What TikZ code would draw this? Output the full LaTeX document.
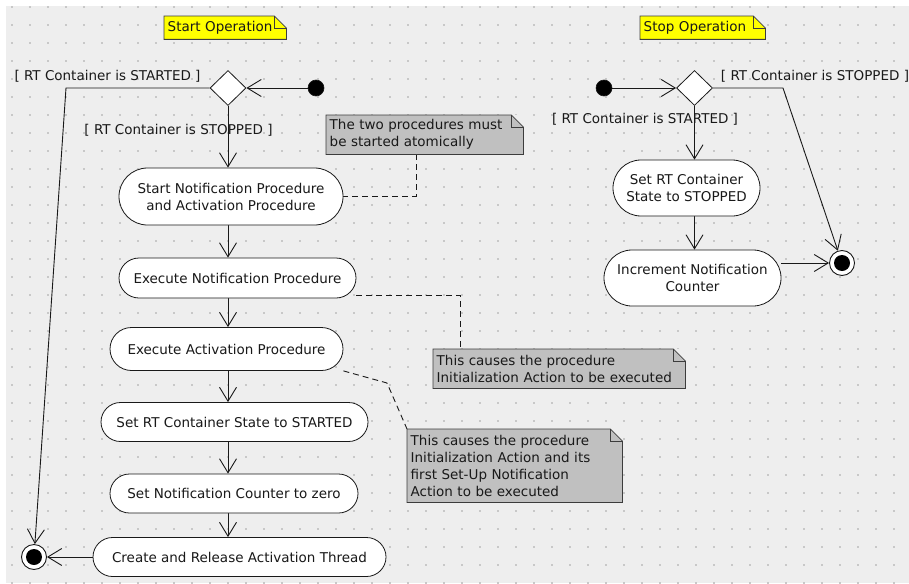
\documentclass[tikz,border=0pt]{standalone}
\usepackage{fontspec}
\setmainfont{DejaVu Sans}
\usetikzlibrary{arrows.meta,shapes.geometric}

\definecolor{canvas}{RGB}{238,238,238}
\definecolor{griddot}{RGB}{200,200,200}
\definecolor{notegrey}{RGB}{192,192,192}
\definecolor{noteyellow}{RGB}{255,255,0}
\definecolor{ink}{RGB}{25,25,25}

\pgfdeclarelayer{grid}
\pgfdeclarelayer{edges}
\pgfsetlayers{grid,edges,main}

\tikzset{
  act/.style n args={3}{rectangle, draw=ink, fill=white, line width=0.8pt,
    rounded corners=#3, minimum width=#1, minimum height=#2, inner sep=0pt,
    align=center},
  decision/.style={diamond, draw=ink, fill=white, line width=0.8pt,
    minimum width=36pt, minimum height=35pt, inner sep=0pt},
  initial/.style={circle, fill=black, draw=ink, line width=0.6pt,
    minimum size=16pt, inner sep=0pt},
  final/.style={circle, fill=white, draw=ink, line width=0.9pt,
    minimum size=25pt, inner sep=0pt,
    path picture={\fill[black] (path picture bounding box.center) circle (8pt);}},
  note/.style n args={4}{rectangle, fill=#1, minimum width=#2, minimum height=#3,
    text width=#4, align=left, inner xsep=3.5pt, inner ysep=0pt, anchor=north west},
  guard/.style={inner sep=0pt},
  flow/.style={draw=ink, line width=0.9pt,
    -{Straight Barb[length=14pt,width=17pt,line width=0.9pt]}},
  link/.style={draw=ink, line width=0.9pt, dash pattern=on 6pt off 4pt},
  fold/.style={draw=ink!85, line width=0.8pt},
}

% dog-eared outline of a note node
\newcommand\dogear[1]{%
  \fill[canvas] ([xshift=-12pt]#1.north east) -- (#1.north east)
    -- ([yshift=-12pt]#1.north east) -- cycle;
  \draw[fold] (#1.north west) -- ([xshift=-12pt]#1.north east)
    -- ([yshift=-12pt]#1.north east) -- (#1.south east)
    -- (#1.south west) -- cycle;
  \draw[fold] ([xshift=-12pt]#1.north east)
    -- ([xshift=-12pt,yshift=-12pt]#1.north east)
    -- ([yshift=-12pt]#1.north east);
}

\begin{document}
\begin{tikzpicture}[x=1pt,y=-1pt,font=\fontsize{13.5}{17}\selectfont, text=ink]
\useasboundingbox (0,0) rectangle (909,583);

% dotted canvas
\begin{pgfonlayer}{grid}
  \fill[canvas] (6,6) rectangle (909,583);
  \foreach \x in {12,30,...,906}
    \foreach \y in {7,25,...,583}
      \fill[griddot] (\x-0.75,\y-0.75) rectangle ++(1.5,1.5);
\end{pgfonlayer}

% titles
\node[note={noteyellow}{122pt}{23pt}{115pt}] (nstart) at (164,16) {Start Operation};
\dogear{nstart}
\node[note={noteyellow}{125pt}{23pt}{118pt}] (nstop) at (640,16) {Stop Operation};
\dogear{nstop}

% start operation flow
\node[initial]  (i1) at (316,88) {};
\node[decision] (d1) at (228,88) {};
\node[act={224pt}{57pt}{28.5pt}] (b1) at (231,196.5)
  {Start Notification Procedure\\and Activation Procedure};
\node[act={237pt}{40pt}{20pt}] (b2) at (237.5,278) {Execute Notification Procedure};
\node[act={233pt}{43pt}{21.5pt}] (b3) at (226.5,349) {Execute Activation Procedure};
\node[act={267pt}{39pt}{19.5pt}] (b4) at (234.5,422) {Set RT Container State to STARTED};
\node[act={248pt}{39pt}{19.5pt}] (b5) at (234,493.5) {Set Notification Counter to zero};
\node[act={293pt}{39pt}{19.5pt}] (b6) at (239.5,557) {Create and Release Activation Thread};
\node[final] (f1) at (34,557) {};

\node[guard] (g1) at (107.5,76) {[ RT Container is STARTED ]};
\node[guard] (g2) at (178.5,130) {[ RT Container is STOPPED ]};

% stop operation flow
\node[initial]  (i2) at (604,88) {};
\node[decision] (d2) at (694.5,88) {};
\node[act={147pt}{56pt}{28pt}] (r1) at (686.5,188) {Set RT Container\\State to STOPPED};
\node[act={177pt}{56pt}{28pt}] (r2) at (692.5,278) {Increment Notification\\Counter};
\node[final] (f2) at (842,263) {};

\node[guard] (g3) at (815,76) {[ RT Container is STOPPED ]};
\node[guard] (g4) at (645,119) {[ RT Container is STARTED ]};

% comments
\node[note={notegrey}{197pt}{39pt}{190pt}] (n1) at (326,115)
  {The two procedures must\\be started atomically};
\dogear{n1}
\node[note={notegrey}{252pt}{39pt}{245pt}] (n2) at (433,349)
  {This causes the procedure\\Initialization Action to be executed};
\dogear{n2}
\node[note={notegrey}{215pt}{73pt}{208pt}] (n3) at (407,429)
  {This causes the procedure\\Initialization Action and its\\first Set-Up Notification\\Action to be executed};
\dogear{n3}

\coordinate (cl) at (66,88);
\coordinate (cr) at (783,88);
\coordinate (c1) at (416,196);
\coordinate (c2) at (460,295);
\coordinate (c3) at (387,383);

\begin{pgfonlayer}{edges}
  % start operation
  \draw[flow] (i1) -- (d1);
  \draw[flow] (d1.west) -- (cl) -- (f1);
  \draw[flow] (d1.south) -- (b1.north -| d1.south);
  \draw[flow] (b1.south -| d1.south) -- (b2.north -| d1.south);
  \draw[flow] (b2.south -| d1.south) -- (b3.north -| d1.south);
  \draw[flow] (b3.south -| d1.south) -- (b4.north -| d1.south);
  \draw[flow] (b4.south -| d1.south) -- (b5.north -| d1.south);
  \draw[flow] (b5.south -| d1.south) -- (b6.north -| d1.south);
  \draw[flow] (b6.west) -- (f1);
  % stop operation
  \draw[flow] (i2) -- (d2);
  \draw[flow] (d2.east) -- (cr) -- (f2);
  \draw[flow] (d2.south) -- (r1.north -| d2.south);
  \draw[flow] (r1.south -| d2.south) -- (r2.north -| d2.south);
  \draw[flow] (r2.east |- f2) -- (f2);
  % comment anchors
  \draw[link] (n1.south -| c1) -- (c1) -- (c1 -| b1.east);
  \draw[link] (c2 -| b2.south east) -- (c2) -- (c2 |- n2.north);
  \draw[link] (b3.south east) -- (c3) -- (n3.north west);
\end{pgfonlayer}
\end{tikzpicture}
\end{document}
